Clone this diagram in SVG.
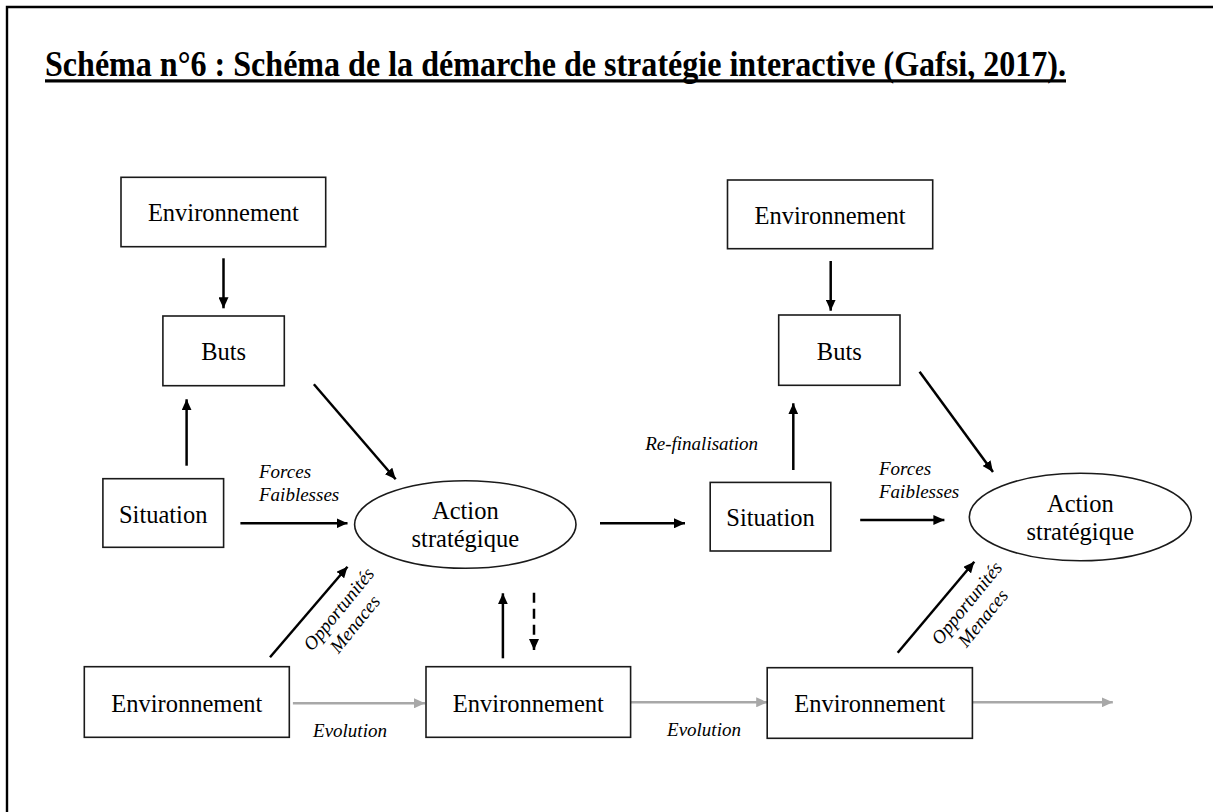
<svg xmlns="http://www.w3.org/2000/svg" width="1213" height="812" viewBox="0 0 1213 812" font-family="'Liberation Serif', 'Times New Roman', serif">
<style>
.box{fill:#fff;stroke:#1a1a1a;stroke-width:1.6}
.t{font-family:'Liberation Serif', 'Times New Roman', serif;font-size:24.5px;fill:#000;text-anchor:middle}
.it{font-family:'Liberation Serif', 'Times New Roman', serif;font-size:19px;font-style:italic;fill:#000}
.ar{stroke:#000;stroke-width:2.5;fill:none;marker-end:url(#ah)}
.gr{stroke:#a8a8a8;stroke-width:2.5;fill:none;marker-end:url(#gh)}
</style>
<defs>
<marker id="ah" markerUnits="userSpaceOnUse" markerWidth="11" markerHeight="10" refX="11" refY="5" orient="auto"><path d="M0,0 L11,5 L0,10 z" fill="#000"/></marker>
<marker id="gh" markerUnits="userSpaceOnUse" markerWidth="11" markerHeight="10" refX="11" refY="5" orient="auto"><path d="M0,0 L11,5 L0,10 z" fill="#a8a8a8"/></marker>
</defs>
<rect width="1213" height="812" fill="#fff"/>
<path d="M7,812 V7 H1213" fill="none" stroke="#000" stroke-width="2.4"/>
<g id="title">
<text x="45" y="76" font-family="'Liberation Serif','Times New Roman',serif" font-size="35" font-weight="bold" textLength="1021" lengthAdjust="spacingAndGlyphs">Schéma n°6 : Schéma de la démarche de stratégie interactive (Gafsi, 2017).</text>
<rect x="45" y="79.3" width="1021" height="3.2" fill="#000"/>
</g>
<g id="connectors">
<line class="ar" x1="223.5" y1="258.3" x2="223.5" y2="308.3"/>
<line class="ar" x1="186.6" y1="465.7" x2="186.6" y2="399.3"/>
<line class="ar" x1="313.9" y1="384.3" x2="395.7" y2="479.3"/>
<line class="ar" x1="240.4" y1="523.3" x2="347.5" y2="523.3"/>
<line class="ar" x1="270" y1="657.3" x2="347.5" y2="566.7"/>
<line class="ar" x1="502.9" y1="658.3" x2="502.9" y2="593.3"/>
<line class="ar" x1="534" y1="592.7" x2="534" y2="650" stroke-dasharray="10,6"/>
<line class="ar" x1="600" y1="523.3" x2="685" y2="523.3"/>
<line class="ar" x1="830.7" y1="261" x2="830.7" y2="310.7"/>
<line class="ar" x1="793.3" y1="470" x2="793.3" y2="403.3"/>
<line class="ar" x1="919.6" y1="371.7" x2="993" y2="472"/>
<line class="ar" x1="860.2" y1="520" x2="944.4" y2="520"/>
<line class="ar" x1="897.7" y1="652.7" x2="974.3" y2="561.7"/>
<line class="gr" x1="292.9" y1="703.3" x2="425" y2="703.3"/>
<line class="gr" x1="630.6" y1="702.3" x2="767.2" y2="702.3"/>
<line class="gr" x1="972.4" y1="702.3" x2="1112.8" y2="702.3"/>
</g>
<g id="labels">
<text class="it" x="259" y="478.3">Forces</text>
<text class="it" x="259" y="500.7">Faiblesses</text>
<text class="it" x="879" y="475">Forces</text>
<text class="it" x="879" y="497.5">Faiblesses</text>
<text class="it" x="645.2" y="450">Re-finalisation</text>
<text class="it" x="350" y="737" text-anchor="middle">Evolution</text>
<text class="it" x="704" y="736" text-anchor="middle">Evolution</text>
<text class="it" transform="translate(312,652) rotate(-51)"><tspan x="0" y="0">Opportunités</tspan><tspan x="15" y="22">Menaces</tspan></text>
<text class="it" transform="translate(940,646) rotate(-51)"><tspan x="0" y="0">Opportunités</tspan><tspan x="15" y="22">Menaces</tspan></text>
</g>
<g id="env-top-left"><rect class="box" x="121" y="177.3" width="204.7" height="69.4"/><text class="t" x="223.4" y="221">Environnement</text></g>
<g id="buts-left"><rect class="box" x="162.9" y="316" width="121.4" height="69.7"/><text class="t" x="223.6" y="360">Buts</text></g>
<g id="situation-left"><rect class="box" x="102.9" y="478.7" width="120.7" height="68.6"/><text class="t" x="163.2" y="522.7">Situation</text></g>
<g id="action-left"><ellipse class="box" cx="465.3" cy="524.5" rx="110.7" ry="43.8"/><text class="t" x="465.3" y="519">Action</text><text class="t" x="465.3" y="546.7">stratégique</text></g>
<g id="env-bottom-left"><rect class="box" x="84.3" y="666.7" width="205" height="70.6"/><text class="t" x="186.8" y="711.7">Environnement</text></g>
<g id="env-bottom-mid"><rect class="box" x="426" y="666.7" width="204.6" height="70.6"/><text class="t" x="528.3" y="711.7">Environnement</text></g>
<g id="env-top-right"><rect class="box" x="727.5" y="180" width="205.2" height="68.7"/><text class="t" x="830.1" y="224.3">Environnement</text></g>
<g id="buts-right"><rect class="box" x="778.7" y="315" width="121.3" height="70.3"/><text class="t" x="839.3" y="360">Buts</text></g>
<g id="situation-right"><rect class="box" x="710.2" y="482.4" width="120.6" height="68.6"/><text class="t" x="770.5" y="526">Situation</text></g>
<g id="action-right"><ellipse class="box" cx="1080.3" cy="517" rx="111" ry="43.8"/><text class="t" x="1080.3" y="512">Action</text><text class="t" x="1080.3" y="540">stratégique</text></g>
<g id="env-bottom-right"><rect class="box" x="767.2" y="667.7" width="205.2" height="70.6"/><text class="t" x="869.8" y="711.7">Environnement</text></g>
</svg>
